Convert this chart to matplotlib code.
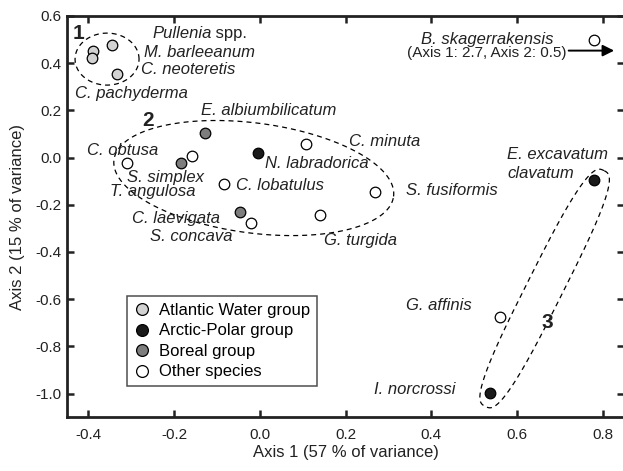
import numpy as np
import matplotlib
matplotlib.use("Agg")
import matplotlib.pyplot as plt
from matplotlib.lines import Line2D

plt.rcParams['font.family'] = ['Liberation Sans', 'DejaVu Sans']

# Species scores on the first two ordination axes
species = ["Pullenia spp.", "M. barleeanum", "C. neoteretis", "C. pachyderma",
           "E. albiumbilicatum", "C. minuta", "N. labradorica", "C. obtusa",
           "T. angulosa", "S. simplex", "C. lobatulus", "S. fusiformis",
           "C. laevigata", "S. concava", "G. turgida", "E. excavatum clavatum",
           "G. affinis", "I. norcrossi", "B. skagerrakensis"]
axis1 = [-0.344, -0.389, -0.333, -0.391,
         -0.128, 0.107, -0.004, -0.309,
         -0.158, -0.183, -0.084, 0.268,
         -0.045, -0.020, 0.141, 0.798,
         0.561, 0.536, 2.7]
axis2 = [0.477, 0.453, 0.354, 0.420,
         0.105, 0.056, 0.018, -0.025,
         0.006, -0.025, -0.112, -0.145,
         -0.230, -0.276, -0.244, -0.095,
         -0.675, -0.997, 0.5]
group = ["atlantic", "atlantic", "atlantic", "atlantic",
         "boreal", "other", "arctic", "other",
         "other", "boreal", "other", "other",
         "boreal", "other", "other", "arctic",
         "other", "arctic", "other"]

xticks = [-0.4, -0.2, 0.0, 0.2, 0.4, 0.6, 0.8]
yticks = [-1.0, -0.8, -0.6, -0.4, -0.2, 0.0, 0.2, 0.4, 0.6]

group_names = {"atlantic": "Atlantic Water group", "arctic": "Arctic-Polar group",
               "boreal": "Boreal group", "other": "Other species"}
group_colors = {"atlantic": "#d2d2d2", "arctic": "#1a1a1a",
                "boreal": "#7d7d7d", "other": "white"}

XLIM = (-0.45, 0.85)
YLIM = (-1.1, 0.6)
X_EDGE = 0.78   # off-scale scores get parked here, with the arrow

fig = plt.figure(figsize=(6.23, 4.71), dpi=100)
ax = fig.add_axes([0.1071, 0.1144, 0.8952, 0.8518])
ax.set_xlim(*XLIM)
ax.set_ylim(*YLIM)

# pixels per data unit, used for the group outlines
PX_X = 623 * 0.8952 / (XLIM[1] - XLIM[0])
PX_Y = 471 * 0.8518 / (YLIM[1] - YLIM[0])

axis1 = np.array(axis1)
axis2 = np.array(axis2)
x_plot = np.minimum(axis1, X_EDGE)

for g in ["atlantic", "boreal", "arctic", "other"]:
    idx = [i for i, gg in enumerate(group) if gg == g]
    ax.scatter(x_plot[idx], axis2[idx], s=58, c=group_colors[g],
               edgecolors="black", linewidths=0.9, zorder=3)


def dashed_loop(cx, cy, a, b, angle=0.0, n=2.0):
    # superellipse outline; a, b in pixels so the shape is set on screen
    t = np.linspace(0, 2 * np.pi, 500)
    c, s = np.cos(t), np.sin(t)
    u = a * np.sign(c) * np.abs(c) ** (2 / n)
    v = b * np.sign(s) * np.abs(s) ** (2 / n)
    th = np.deg2rad(angle)
    px = u * np.cos(th) - v * np.sin(th)
    py = u * np.sin(th) + v * np.cos(th)
    ax.plot(cx + px / PX_X, cy + py / PX_Y, color="black", lw=0.9,
            dashes=(4, 3.2), zorder=2)


dashed_loop(-0.356, 0.417, 32, 26)
dashed_loop(-0.014, -0.087, 141, 55, angle=-7.5)
dashed_loop(0.664, -0.555, 132, 18, angle=63.3, n=3.0)

# species labels
LAB_SIZE = 12
lab_kw = dict(fontsize=LAB_SIZE, style="italic", color="#222222", va="center")
labels = [
    ("M. barleeanum", -0.270, 0.446, "left"),
    ("C. neoteretis", -0.276, 0.371, "left"),
    ("C. pachyderma", -0.431, 0.272, "left"),
    ("E. albiumbilicatum", -0.136, 0.201, "left"),
    ("C. minuta", 0.207, 0.066, "left"),
    ("N. labradorica", 0.012, -0.025, "left"),
    ("C. obtusa", -0.403, 0.029, "left"),
    ("S. simplex", -0.309, -0.084, "left"),
    ("T. angulosa", -0.348, -0.145, "left"),
    ("C. lobatulus", -0.055, -0.117, "left"),
    ("S. fusiformis", 0.340, -0.138, "left"),
    ("C. laevigata", -0.298, -0.258, "left"),
    ("S. concava", -0.255, -0.336, "left"),
    ("G. turgida", 0.149, -0.350, "left"),
    ("E. excavatum", 0.577, 0.011, "left"),
    ("clavatum", 0.577, -0.067, "left"),
    ("G. affinis", 0.493, -0.625, "right"),
    ("I. norcrossi", 0.456, -0.985, "right"),
    ("B. skagerrakensis", 0.531, 0.501, "center"),
]
for txt, tx, ty, ha in labels:
    ax.text(tx, ty, txt, ha=ha, **lab_kw)

pul = ax.text(-0.251, 0.526, "Pullenia", ha="left", **lab_kw)
ax.annotate(" spp.", xy=(1, 0.5), xycoords=pul, va="center", ha="left",
            fontsize=LAB_SIZE, color="#222222")

ax.text(0.528, 0.441, "(Axis 1: 2.7, Axis 2: 0.5)", ha="center", va="center",
        fontsize=11, color="#222222")
ax.annotate("", xy=(0.826, 0.453), xytext=(0.72, 0.453),
            arrowprops=dict(arrowstyle="-|>", color="black", lw=1.4,
                            mutation_scale=17, shrinkA=0, shrinkB=0))

# group numbers
for num, tx, ty in [("1", -0.422, 0.526), ("2", -0.260, 0.156), ("3", 0.670, -0.700)]:
    ax.text(tx, ty, num, fontsize=15, fontweight="bold", ha="center", va="center",
            color="#222222")

ax.set_xticks(xticks)
ax.set_yticks(yticks)
ax.set_xticklabels([f"{v:.1f}" for v in xticks])
ax.set_yticklabels([f"{v:.1f}" for v in yticks])
ax.tick_params(direction="in", top=True, right=True, length=5, width=1.8,
               labelsize=11, colors="#222222")
ax.tick_params(axis="x", pad=8)
ax.tick_params(axis="y", pad=4)
for sp in ax.spines.values():
    sp.set_linewidth(2.0)
    sp.set_color("#222222")

ax.set_xlabel("Axis 1 (57 % of variance)", fontsize=12, color="#222222", labelpad=2)
ax.set_ylabel("Axis 2 (15 % of variance)", fontsize=12, color="#222222", labelpad=7)

handles = [Line2D([], [], ls="none", marker="o", markersize=8.5,
                  markerfacecolor=group_colors[g], markeredgecolor="black",
                  markeredgewidth=0.9)
           for g in ["atlantic", "arctic", "boreal", "other"]]
leg = ax.legend(handles, [group_names[g] for g in ["atlantic", "arctic", "boreal", "other"]],
                loc="lower left", bbox_to_anchor=(0.1087, 0.0775), borderaxespad=0,
                fontsize=12, frameon=True, fancybox=False, handlelength=1.0,
                handletextpad=0.5, labelspacing=0.33, borderpad=0.4)
leg.get_frame().set_edgecolor("#222222")
leg.get_frame().set_linewidth(1.1)

fig.savefig("out.png", dpi=100)
